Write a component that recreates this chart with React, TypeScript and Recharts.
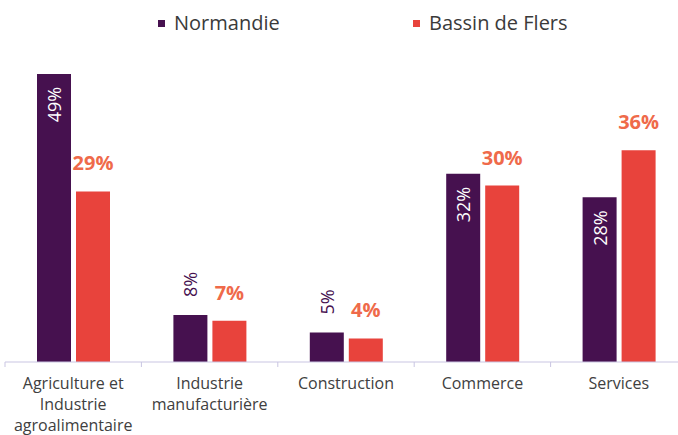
import React from 'react';
import { BarChart, Bar, XAxis, YAxis, LabelList } from 'recharts';

const CATEGORIES = [
  'Agriculture et\nIndustrie\nagroalimentaire',
  'Industrie\nmanufacturière',
  'Construction',
  'Commerce',
  'Services',
];
const NORMANDIE = [49, 8, 5, 32, 28];
const FLERS = [29, 7, 4, 30, 36];

const PURPLE = '#46114F';
const RED = '#E8433C';
const LABEL_RED = '#EF6A4A';
const AXIS = '#C9C5E2';
const FONT = '"Open Sans", sans-serif';

const data = CATEGORIES.map((name, i) => ({
  name,
  normandie: NORMANDIE[i],
  flers: FLERS[i],
}));

const CHART_W = 687;
const LEFT = 5;
const BAND = (CHART_W - LEFT) / CATEGORIES.length;

const CategoryTick = (props: any) => {
  const { x, y, payload } = props;
  const lines = String(payload.value).split('\n');
  return (
    <g>
      <line x1={x - BAND / 2} x2={x - BAND / 2} y1={y} y2={y + 5} stroke={AXIS} strokeWidth={1} />
      <text x={x} y={y + 21} textAnchor="middle" fill="#404040" fontSize={16} fontFamily={FONT}>
        {lines.map((l, i) => (
          <tspan key={i} x={x} dy={i === 0 ? '0.35em' : 21}>{l}</tspan>
        ))}
      </text>
    </g>
  );
};

const NormandieLabel = (props: any) => {
  const { x, y, width, value } = props;
  const cx = x + width / 2;
  const inside = value >= 20;
  const ay = inside ? y + 13 : y - 18;
  return (
    <text
      x={cx}
      y={ay}
      transform={`rotate(-90 ${cx} ${ay})`}
      textAnchor={inside ? 'end' : 'start'}
      dominantBaseline="central"
      fill={inside ? '#FFFFFF' : PURPLE}
      fontSize={18}
      fontFamily={FONT}
    >
      {value}%
    </text>
  );
};

const FlersLabel = (props: any) => {
  const { x, y, width, value } = props;
  return (
    <text
      x={x + width / 2}
      y={y - 21}
      textAnchor="middle"
      fill={LABEL_RED}
      fontSize={20}
      fontWeight="bold"
      fontFamily={FONT}
    >
      {value}%
    </text>
  );
};

const LegendItem = ({ left, color, text }: { left: number; color: string; text: string }) => (
  <div style={{ position: 'absolute', left, top: 8, display: 'flex', alignItems: 'center', height: 28 }}>
    <span style={{ width: 7, height: 7, background: color, display: 'inline-block', marginRight: 9, marginTop: 3 }} />
    <span style={{ fontSize: 20, color: '#3a3a3a', fontFamily: FONT }}>{text}</span>
  </div>
);

export default function App() {
  return (
    <div style={{ position: 'absolute', left: 0, top: 0, width: 678, height: 435, overflow: 'hidden', background: '#fff' }}>
      <LegendItem left={158} color={PURPLE} text="Normandie" />
      <LegendItem left={413} color={RED} text="Bassin de Flers" />
      <BarChart
        width={CHART_W}
        height={435}
        data={data}
        margin={{ top: 68, right: 0, bottom: 0, left: LEFT }}
        barSize={34}
        barGap={5}
      >
        <XAxis
          dataKey="name"
          height={73}
          interval={0}
          tickLine={false}
          tickSize={0}
          tickMargin={0}
          axisLine={{ stroke: AXIS, strokeWidth: 1 }}
          tick={<CategoryTick />}
        />
        <YAxis hide domain={[0, 50]} />
        <Bar dataKey="normandie" fill={PURPLE} isAnimationActive={false}>
          <LabelList dataKey="normandie" content={<NormandieLabel />} />
        </Bar>
        <Bar dataKey="flers" fill={RED} isAnimationActive={false}>
          <LabelList dataKey="flers" content={<FlersLabel />} />
        </Bar>
      </BarChart>
    </div>
  );
}
